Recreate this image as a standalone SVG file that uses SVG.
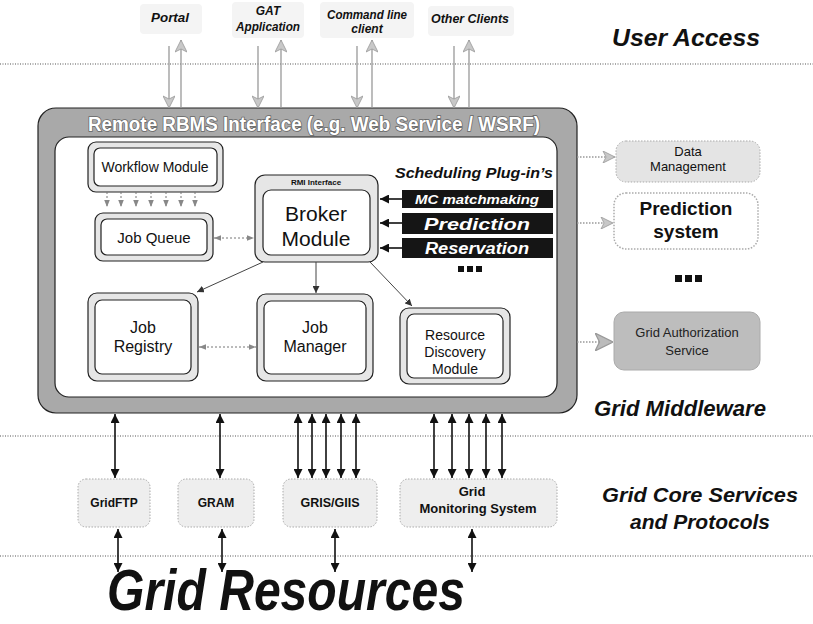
<svg xmlns="http://www.w3.org/2000/svg" width="813" height="624" viewBox="0 0 813 624">
<defs>
<style>
text{font-family:"Liberation Sans",Arial,sans-serif;text-anchor:middle;fill:#111}
.bi{font-weight:bold;font-style:italic}
.b{font-weight:bold}
.sep{stroke:#555;stroke-width:1.2;stroke-dasharray:1 1.5;fill:none}
.dbo{fill:#e6e6e6;stroke:#222;stroke-width:1.2}
.dbi{fill:#fff;stroke:#222;stroke-width:1.2}
.blk{stroke:#111;stroke-width:1.6;fill:none}
.thin{stroke:#444;stroke-width:1;fill:none}
.dash{stroke:#777;stroke-width:1;stroke-dasharray:2 2;fill:none}
.gry{stroke:#999;stroke-width:1.3;fill:none}
.gdot{stroke:#999;stroke-width:1.5;stroke-dasharray:1.5 1.5;fill:none}
.svc{fill:#eeeeee;stroke:#aaa;stroke-width:1;stroke-dasharray:1.5 1.5}
.bar{fill:#151515}
.bt{fill:#fff;font-weight:bold;font-style:italic}
.clbg{fill:#f4f4f4}
.hdr{fill:#fff;font-weight:bold;stroke:#666;stroke-width:1.6;paint-order:stroke}
</style>
<marker id="ah" viewBox="0 0 10 10" refX="10" refY="5" markerWidth="9" markerHeight="9" markerUnits="userSpaceOnUse" orient="auto-start-reverse"><path d="M0,0 L10,5 L0,10 z" fill="#111"/></marker>
<marker id="ahs" viewBox="0 0 10 10" refX="10" refY="5" markerWidth="7" markerHeight="7" markerUnits="userSpaceOnUse" orient="auto-start-reverse"><path d="M0,0 L10,5 L0,10 z" fill="#333"/></marker>
<marker id="ahg" viewBox="0 0 10 10" refX="10" refY="5" markerWidth="7" markerHeight="7" markerUnits="userSpaceOnUse" orient="auto-start-reverse"><path d="M0,1 L10,5 L0,9 z" fill="#888"/></marker>
<marker id="ahbig" viewBox="0 0 12 12" refX="12" refY="6" markerWidth="15" markerHeight="12" markerUnits="userSpaceOnUse" orient="auto"><path d="M0,0 L12,6 L0,12 L3,6 z" fill="#c8c8c8" stroke="#999" stroke-width="0.8"/></marker>
<marker id="ahbig2" viewBox="0 0 12 12" refX="12" refY="6" markerWidth="18" markerHeight="18" markerUnits="userSpaceOnUse" orient="auto"><path d="M0,0 L12,6 L0,12 L3,6 z" fill="#bbb" stroke="#999" stroke-width="0.8"/></marker>
</defs>

<rect width="813" height="624" fill="#fff"/>

<!-- layer separators -->
<g id="separators">
<line class="sep" x1="0" y1="64" x2="813" y2="64"/>
<line class="sep" x1="0" y1="436" x2="813" y2="436"/>
<line class="sep" x1="0" y1="556" x2="813" y2="556"/>
</g>

<!-- layer labels -->
<g id="layer-labels">
<text class="bi" x="686" y="46" font-size="24" textLength="148" lengthAdjust="spacingAndGlyphs">User Access</text>
<text class="bi" x="680" y="416" font-size="22" textLength="172" lengthAdjust="spacingAndGlyphs">Grid Middleware</text>
<text class="bi" x="700" y="502" font-size="21" textLength="196" lengthAdjust="spacingAndGlyphs">Grid Core Services</text>
<text class="bi" x="700" y="529" font-size="21" textLength="140" lengthAdjust="spacingAndGlyphs">and Protocols</text>
<text class="bi" x="286" y="610" font-size="58" textLength="358" lengthAdjust="spacingAndGlyphs">Grid Resources</text>
</g>

<!-- clients -->
<g id="portal"><rect class="clbg" x="140" y="4" width="62" height="30" rx="4"/><text class="bi" x="170" y="22" font-size="12" textLength="38" lengthAdjust="spacingAndGlyphs">Portal</text></g>
<g id="gat"><rect class="clbg" x="232" y="2" width="72" height="36" rx="4"/><text class="bi" x="268" y="15" font-size="12">GAT</text><text class="bi" x="268" y="31" font-size="12" textLength="64" lengthAdjust="spacingAndGlyphs">Application</text></g>
<g id="cmdline"><rect class="clbg" x="320" y="2" width="94" height="36" rx="4"/><text class="bi" x="367" y="19" font-size="12" textLength="80" lengthAdjust="spacingAndGlyphs">Command line</text><text class="bi" x="367" y="33" font-size="12">client</text></g>
<g id="otherclients"><rect class="clbg" x="428" y="6" width="86" height="30" rx="4"/><text class="bi" x="470" y="23" font-size="12" textLength="78" lengthAdjust="spacingAndGlyphs">Other Clients</text></g>

<!-- middleware outer -->
<g id="middleware">
<rect x="38" y="108" width="539" height="305" rx="18" fill="#a9a9a9" stroke="#222" stroke-width="1.2"/>
<text class="hdr" x="314" y="131" font-size="20" textLength="452" lengthAdjust="spacingAndGlyphs">Remote RBMS Interface (e.g. Web Service / WSRF)</text>
<rect x="55" y="137" width="502" height="260" rx="14" fill="#fff" stroke="#222" stroke-width="1.2"/>
</g>

<g id="workflow">
<rect class="dbo" x="88" y="142" width="135" height="50" rx="8"/>
<rect class="dbi" x="94" y="148" width="123" height="38" rx="6"/>
<text x="155" y="172" font-size="14">Workflow Module</text>
</g>

<g id="jobqueue">
<rect class="dbo" x="95" y="213" width="118" height="48" rx="8"/>
<rect class="dbi" x="101" y="219" width="106" height="36" rx="6"/>
<text x="154" y="243" font-size="15">Job Queue</text>
</g>

<g id="broker">
<rect class="dbo" x="255" y="175" width="123" height="87" rx="10"/>
<text class="b" x="316" y="185" font-size="8">RMI Interface</text>
<rect class="dbi" x="263" y="190" width="107" height="65" rx="8"/>
<text x="316" y="221" font-size="21">Broker</text>
<text x="316" y="246" font-size="21">Module</text>
</g>

<g id="plugins">
<text class="bi" x="474" y="178" font-size="15" textLength="158" lengthAdjust="spacingAndGlyphs">Scheduling Plug-in’s</text>
<g id="mc"><rect class="bar" x="402" y="190" width="151" height="18"/><text class="bt" x="477" y="204" font-size="12.5" textLength="124" lengthAdjust="spacingAndGlyphs">MC matchmaking</text></g>
<g id="prediction"><rect class="bar" x="402" y="213" width="151" height="21"/><text class="bt" x="477" y="230" font-size="17" textLength="106" lengthAdjust="spacingAndGlyphs">Prediction</text></g>
<g id="reservation"><rect class="bar" x="402" y="238" width="151" height="20"/><text class="bt" x="477" y="254" font-size="16" textLength="104" lengthAdjust="spacingAndGlyphs">Reservation</text></g>
<g fill="#111"><rect x="458" y="266" width="6" height="6"/><rect x="467" y="266" width="6" height="6"/><rect x="476" y="266" width="6" height="6"/></g>
</g>

<g id="jobregistry">
<rect class="dbo" x="88" y="293" width="110" height="88" rx="9"/>
<rect class="dbi" x="95" y="300" width="96" height="74" rx="7"/>
<text x="143" y="333" font-size="16">Job</text>
<text x="143" y="352" font-size="16">Registry</text>
</g>

<g id="jobmanager">
<rect class="dbo" x="257" y="294" width="116" height="87" rx="9"/>
<rect class="dbi" x="264" y="301" width="102" height="73" rx="7"/>
<text x="315" y="333" font-size="16">Job</text>
<text x="315" y="352" font-size="16">Manager</text>
</g>

<g id="resourcediscovery">
<rect class="dbo" x="400" y="308" width="110" height="76" rx="9"/>
<rect class="dbi" x="407" y="314" width="96" height="64" rx="7"/>
<text x="455" y="340" font-size="14">Resource</text>
<text x="455" y="357" font-size="14">Discovery</text>
<text x="455" y="374" font-size="14">Module</text>
</g>

<!-- external middleware services -->
<g id="datamanagement">
<rect x="616" y="141" width="144" height="41" rx="10" fill="#e4e4e4" stroke="#aaa" stroke-dasharray="1.5 1.5"/>
<text x="688" y="156" font-size="13">Data</text>
<text x="688" y="171" font-size="13">Management</text>
</g>
<g id="predictionsystem">
<rect x="614" y="193" width="144" height="56" rx="12" fill="#fff" stroke="#aaa" stroke-width="1.5" stroke-dasharray="1.5 1.5"/>
<text class="b" x="686" y="215" font-size="19">Prediction</text>
<text class="b" x="686" y="238" font-size="19">system</text>
</g>
<g fill="#111"><rect x="675" y="275" width="7" height="7"/><rect x="685" y="275" width="7" height="7"/><rect x="695" y="275" width="7" height="7"/></g>
<g id="gridauth">
<rect x="614" y="312" width="146" height="58" rx="10" fill="#bdbdbd" stroke="#aaa"/>
<text x="687" y="337" font-size="13" style="fill:#222">Grid Authorization</text>
<text x="687" y="355" font-size="13" style="fill:#222">Service</text>
</g>

<!-- core services -->
<g id="gridftp"><rect class="svc" x="78" y="479" width="72" height="48" rx="8"/><text class="b" x="114" y="507" font-size="12">GridFTP</text></g>
<g id="gram"><rect class="svc" x="178" y="479" width="76" height="48" rx="8"/><text class="b" x="216" y="507" font-size="12">GRAM</text></g>
<g id="gris"><rect class="svc" x="283" y="479" width="94" height="48" rx="8"/><text class="b" x="330" y="507" font-size="12.5">GRIS/GIIS</text></g>
<g id="gms"><rect class="svc" x="400" y="479" width="157" height="48" rx="8"/><text class="b" x="472" y="496" font-size="13">Grid</text><text class="b" x="478" y="513" font-size="13">Monitoring System</text></g>

<!-- connectors -->
<g id="connectors">
<!-- clients -->
<line class="gry" x1="169" y1="46" x2="169" y2="108" marker-end="url(#ahbig)"/>
<line class="gry" x1="181" y1="108" x2="181" y2="40" marker-end="url(#ahbig)"/>
<line class="gry" x1="258" y1="46" x2="258" y2="108" marker-end="url(#ahbig)"/>
<line class="gry" x1="281" y1="108" x2="281" y2="40" marker-end="url(#ahbig)"/>
<line class="gry" x1="357" y1="46" x2="357" y2="108" marker-end="url(#ahbig)"/>
<line class="gry" x1="372" y1="108" x2="372" y2="40" marker-end="url(#ahbig)"/>
<line class="gry" x1="454" y1="46" x2="454" y2="108" marker-end="url(#ahbig)"/>
<line class="gry" x1="469" y1="108" x2="469" y2="40" marker-end="url(#ahbig)"/>
<!-- workflow to job queue -->
<g class="dash">
<line x1="107" y1="192" x2="107" y2="207" marker-end="url(#ahg)"/>
<line x1="121" y1="192" x2="121" y2="207" marker-end="url(#ahg)"/>
<line x1="136" y1="192" x2="136" y2="207" marker-end="url(#ahg)"/>
<line x1="151" y1="192" x2="151" y2="207" marker-end="url(#ahg)"/>
<line x1="166" y1="192" x2="166" y2="207" marker-end="url(#ahg)"/>
<line x1="181" y1="192" x2="181" y2="207" marker-end="url(#ahg)"/>
<line x1="195" y1="192" x2="195" y2="207" marker-end="url(#ahg)"/>
</g>
<line class="dash" x1="214" y1="238" x2="254" y2="238" marker-start="url(#ahg)" marker-end="url(#ahg)"/>
<line class="dash" x1="199" y1="347" x2="256" y2="347" marker-start="url(#ahg)" marker-end="url(#ahg)"/>
<!-- plugins to broker -->
<line class="blk" x1="402" y1="199" x2="380" y2="199" marker-end="url(#ah)"/>
<line class="blk" x1="402" y1="223" x2="380" y2="223" marker-end="url(#ah)"/>
<line class="blk" x1="402" y1="248" x2="380" y2="248" marker-end="url(#ah)"/>
<!-- broker to modules -->
<line class="thin" x1="263" y1="262" x2="197" y2="292" marker-end="url(#ahs)"/>
<line class="thin" x1="316" y1="262" x2="316" y2="293" marker-end="url(#ahs)"/>
<line class="thin" x1="370" y1="262" x2="412" y2="306" marker-end="url(#ahs)"/>
<!-- to external middleware services -->
<line class="gdot" x1="577" y1="157" x2="615" y2="157" marker-end="url(#ahbig)"/>
<line class="gdot" x1="577" y1="223" x2="613" y2="223" marker-end="url(#ahbig)"/>
<line class="gdot" x1="577" y1="342" x2="613" y2="342" marker-end="url(#ahbig2)"/>
<!-- middleware to core services -->
<g class="blk">
<line x1="115" y1="414" x2="115" y2="478" marker-start="url(#ah)" marker-end="url(#ah)"/>
<line x1="220" y1="414" x2="220" y2="478" marker-start="url(#ah)" marker-end="url(#ah)"/>
<line x1="298" y1="414" x2="298" y2="478" marker-start="url(#ah)" marker-end="url(#ah)"/>
<line x1="312" y1="414" x2="312" y2="478" marker-start="url(#ah)" marker-end="url(#ah)"/>
<line x1="326" y1="414" x2="326" y2="478" marker-start="url(#ah)" marker-end="url(#ah)"/>
<line x1="341" y1="414" x2="341" y2="478" marker-start="url(#ah)" marker-end="url(#ah)"/>
<line x1="356" y1="414" x2="356" y2="478" marker-start="url(#ah)" marker-end="url(#ah)"/>
<line x1="434" y1="414" x2="434" y2="478" marker-start="url(#ah)" marker-end="url(#ah)"/>
<line x1="452" y1="414" x2="452" y2="478" marker-start="url(#ah)" marker-end="url(#ah)"/>
<line x1="469" y1="414" x2="469" y2="478" marker-start="url(#ah)" marker-end="url(#ah)"/>
<line x1="486" y1="414" x2="486" y2="478" marker-start="url(#ah)" marker-end="url(#ah)"/>
<line x1="502" y1="414" x2="502" y2="478" marker-start="url(#ah)" marker-end="url(#ah)"/>
</g>
<!-- core services to resources -->
<g class="blk" stroke-width="1.3">
<line x1="118" y1="529" x2="118" y2="572" marker-start="url(#ah)" marker-end="url(#ah)"/>
<line x1="222" y1="529" x2="222" y2="572" marker-start="url(#ah)" marker-end="url(#ah)"/>
<line x1="335" y1="529" x2="335" y2="572" marker-start="url(#ah)" marker-end="url(#ah)"/>
<line x1="472" y1="529" x2="472" y2="572" marker-start="url(#ah)" marker-end="url(#ah)"/>
</g>
</g>
</svg>
